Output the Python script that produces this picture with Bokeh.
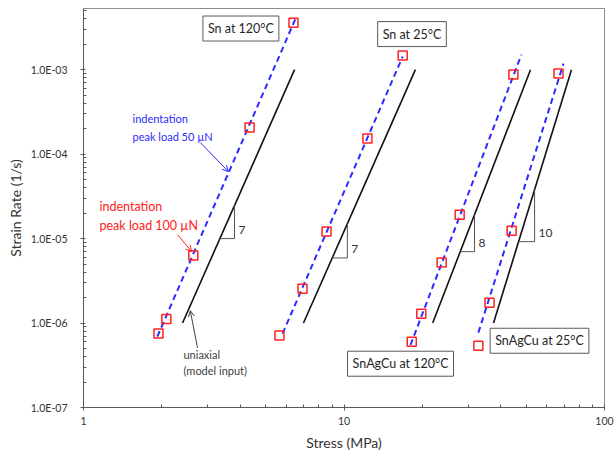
import math
from bokeh.plotting import figure
from bokeh.models import (Range1d, FixedTicker, CustomJSTickFormatter, Label,
                          Arrow, OpenHead)
from bokeh.embed import file_html
from bokeh.resources import INLINE

# ---------------- data ----------------
# indentation results (red squares): stress (MPa), strain rate (1/s)
sn120_stress = [1.94, 2.08, 2.64, 4.34, 6.40]
sn120_rate = [7.5e-7, 1.12e-6, 6.3e-6, 2.06e-4, 3.6e-3]
sn25_stress = [5.65, 6.93, 8.57, 12.3, 16.8]
sn25_rate = [7.1e-7, 2.55e-6, 1.21e-5, 1.53e-4, 1.47e-3]
sac120_stress = [18.2, 19.8, 23.7, 27.8, 44.7]
sac120_rate = [6.0e-7, 1.29e-6, 5.2e-6, 1.92e-5, 8.75e-4]
sac25_stress = [32.8, 36.2, 44.0, 66.6]
sac25_rate = [5.4e-7, 1.74e-6, 1.24e-5, 9.0e-4]

# indentation fit lines (blue dashed), end points
fit_sn120_stress = [1.92, 6.57]
fit_sn120_rate = [6.9e-7, 4.26e-3]
fit_sn25_stress = [5.81, 16.8]
fit_sn25_rate = [7.5e-7, 1.43e-3]
fit_sac120_stress = [18.0, 48.0]
fit_sac120_rate = [5.5e-7, 1.51e-3]
fit_sac25_stress = [32.8, 69.6]
fit_sac25_rate = [7.7e-7, 1.18e-3]

# uniaxial (model input) lines, black
uni_rate = [1e-6, 1e-3]
uni_sn120_stress = [2.40, 6.46]
uni_sn25_stress = [6.99, 18.8]
uni_sac120_stress = [21.9, 52.0]
uni_sac25_stress = [37.5, 74.7]

# slope triangles: right-leg stress, bottom-leg rate, label
tri_right_stress = [3.80, 10.3, 31.7, 53.9]
tri_bottom_rate = [1.0e-5, 5.9e-6, 7.0e-6, 9.2e-6]
tri_labels = ["7", "7", "8", "10"]

x_ticks = [1, 10, 100]
y_ticks = [1e-7, 1e-6, 1e-5, 1e-4, 1e-3]

FONT = "Lato"
BLUE = "#2b2bff"
RED = "#ff2020"

p = figure(width=614, height=453, x_axis_type="log", y_axis_type="log",
           x_range=Range1d(1, 100), y_range=Range1d(1e-7, 5.3e-3),
           output_backend="svg", toolbar_location=None,
           min_border_left=83, min_border_right=10, min_border_top=8,
           min_border_bottom=45)
p.background_fill_color = "white"
p.border_fill_color = "white"
p.outline_line_color = "#8c8c8c"
p.xgrid.visible = False
p.ygrid.visible = False

x_minor = [m * 10 ** e for e in range(0, 2) for m in range(2, 10)]
y_minor = [m * 10.0 ** e for e in range(-7, -2) for m in range(2, 10)]
p.xaxis.ticker = FixedTicker(ticks=x_ticks, minor_ticks=x_minor)
p.yaxis.ticker = FixedTicker(ticks=y_ticks, minor_ticks=y_minor)
p.xaxis.formatter = CustomJSTickFormatter(code="return Math.round(tick).toString();")
p.yaxis.formatter = CustomJSTickFormatter(code="""
const s = tick.toExponential(1).split('e');
let e = parseInt(s[1]);
const sign = e < 0 ? '-' : '+';
e = Math.abs(e);
return s[0] + 'E' + sign + (e < 10 ? '0' + e : '' + e);
""")

for ax in (p.xaxis[0], p.yaxis[0]):
    ax.axis_line_color = "#595959"
    ax.major_tick_line_color = "#595959"
    ax.minor_tick_line_color = "#595959"
    ax.major_label_text_font = FONT
    ax.major_label_text_font_size = "10.5px"
    ax.major_label_text_color = "#333333"
    ax.axis_label_text_font = FONT
    ax.axis_label_text_font_size = "14px"
    ax.axis_label_text_font_style = "normal"
    ax.axis_label_text_color = "#333333"

p.xaxis.major_tick_in = 3
p.xaxis.major_tick_out = 3
p.xaxis.minor_tick_in = 3
p.xaxis.minor_tick_out = 0
p.xaxis.major_label_standoff = 6
p.xaxis.axis_label = "Stress (MPa)"
p.xaxis.axis_label_standoff = 6

p.yaxis.major_tick_in = 2
p.yaxis.major_tick_out = 3
p.yaxis.minor_tick_in = 3
p.yaxis.minor_tick_out = 0
p.yaxis.major_label_standoff = 13
p.yaxis.axis_label = "Strain Rate (1/s)"
p.yaxis.axis_label_standoff = 4

# uniaxial lines
for xs in (uni_sn120_stress, uni_sn25_stress, uni_sac120_stress, uni_sac25_stress):
    p.line(xs, uni_rate, line_color="#111111", line_width=1.6)

# fit lines
for xs, ys in ((fit_sn120_stress, fit_sn120_rate), (fit_sn25_stress, fit_sn25_rate),
               (fit_sac120_stress, fit_sac120_rate), (fit_sac25_stress, fit_sac25_rate)):
    p.line(xs, ys, line_color=BLUE, line_width=2, line_dash="6 4")

# indentation squares
for xs, ys in ((sn120_stress, sn120_rate), (sn25_stress, sn25_rate),
               (sac120_stress, sac120_rate), (sac25_stress, sac25_rate)):
    p.scatter(xs, ys, marker="square", size=9, line_color=RED, line_width=1.5,
              fill_alpha=0)

# slope triangles built on the uniaxial lines
uni_lines = [uni_sn120_stress, uni_sn25_stress, uni_sac120_stress, uni_sac25_stress]
for xs, xr, yb, lab in zip(uni_lines, tri_right_stress, tri_bottom_rate, tri_labels):
    n = (math.log10(uni_rate[1]) - math.log10(uni_rate[0])) / (math.log10(xs[1]) - math.log10(xs[0]))
    x_left = xs[0] * (yb / uni_rate[0]) ** (1.0 / n)
    y_top = uni_rate[0] * (xr / xs[0]) ** n
    p.line([x_left, xr, xr], [yb, yb, y_top], line_color="#555555", line_width=1)
    p.add_layout(Label(x=xr, y=yb, text=lab, x_offset=4, y_offset=9,
                       text_font=FONT, text_font_size="12px", text_color="#333333",
                       text_baseline="middle", text_align="left"))

# boxed series labels
for tx, x, y in (("Sn at 120°C", 4.02, 3.07e-3), ("Sn at 25°C", 18.24, 2.64e-3),
                 ("SnAgCu at 120°C", 16.48, 3.30e-7), ("SnAgCu at 25°C", 56.3, 6.17e-7)):
    p.add_layout(Label(x=x, y=y, text=tx, text_font=FONT, text_font_size="12.5px",
                       text_color="#262626", text_align="center", text_baseline="middle",
                       border_line_color="#595959", border_line_width=1,
                       background_fill_color="white", padding=5))

# annotations
def note(tx, x, y, color, size):
    p.add_layout(Label(x=x, y=y, text=tx, text_font=FONT, text_font_size=size,
                       text_color=color, text_align="left", text_baseline="middle"))

note("indentation", 1.542, 2.63e-4, BLUE, "11px")
note("peak load 50 µN", 1.542, 1.61e-4, BLUE, "11px")
note("indentation", 1.152, 2.39e-5, RED, "12.5px")
note("peak load 100 µN", 1.152, 1.42e-5, RED, "12.5px")
note("uniaxial", 2.42, 4.21e-7, "#404040", "11px")
note("(model input)", 2.42, 2.72e-7, "#404040", "11px")

for (x0, y0, x1, y1, c) in ((2.81, 1.37e-4, 3.60, 6.21e-5, BLUE),
                            (2.30, 1.11e-5, 2.60, 7.0e-6, RED),
                            (2.74, 5.09e-7, 2.57, 1.40e-6, "#404040")):
    p.add_layout(Arrow(x_start=x0, y_start=y0, x_end=x1, y_end=y1,
                       line_color=c, line_width=1,
                       end=OpenHead(size=6, line_color=c, line_width=1)))

open("out.html", "w").write(file_html(p, INLINE))
